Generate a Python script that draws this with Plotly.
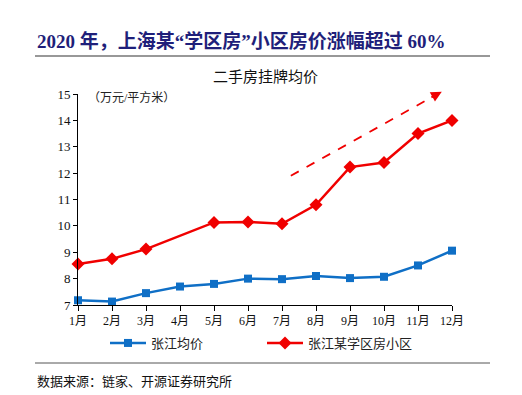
import plotly.graph_objects as go

months = ["1月", "2月", "3月", "4月", "5月", "6月", "7月", "8月", "9月", "10月", "11月", "12月"]
zhangjiang_avg = [7.18, 7.13, 7.45, 7.70, 7.80, 8.00, 7.98, 8.10, 8.02, 8.07, 8.50, 9.06]
school_district = [8.55, 8.75, 9.12, None, 10.13, 10.15, 10.08, 10.80, 12.23, 12.40, 13.50, 14.00]
y_ticks = [7, 8, 9, 10, 11, 12, 13, 14, 15]

SERIF = "Liberation Serif, Noto Sans CJK SC, serif"
xs = list(range(len(months)))

L, R, T, B = 78, 70, 94, 90
W, H = 522, 395
pw, ph = W - L - R, H - T - B


def px(x):
    return (x - L) / pw


def py(y):
    return (H - B - y) / ph


fig = go.Figure()
fig.add_trace(go.Scatter(
    x=xs, y=zhangjiang_avg, name="张江均价", mode="lines+markers",
    line=dict(color="#0F6FC6", width=2.5),
    marker=dict(symbol="square", size=8, color="#0F6FC6"),
    cliponaxis=False,
))
fig.add_trace(go.Scatter(
    x=xs, y=school_district, name="张江某学区房小区", mode="lines+markers",
    connectgaps=True,
    line=dict(color="#F00000", width=2.5),
    marker=dict(symbol="diamond", size=10, color="#F00000"),
    cliponaxis=False,
))

# dashed trend arrow
x0, y0, x1, y1 = 6.26, 11.9, 10.7, 15.09
fig.add_shape(type="line", x0=x0, y0=y0, x1=x1 - 0.08, y1=y1 - 0.06, xref="x", yref="y",
              line=dict(color="#F00000", width=1.8, dash="dash"))
fig.add_annotation(x=x1, y=y1, ax=x1 - 0.35, ay=y1 - 0.25, xref="x", yref="y",
                   axref="x", ayref="y", showarrow=True, arrowhead=2, arrowsize=1.2,
                   arrowwidth=1.8, arrowcolor="#F00000", text="")

fig.update_layout(
    width=W, height=H,
    margin=dict(l=L, r=R, t=T, b=B, autoexpand=False),
    paper_bgcolor="white", plot_bgcolor="white",
    font=dict(family=SERIF, size=12, color="#222222"),
    showlegend=True,
    legend=dict(orientation="h", x=px(105), y=py(328), xanchor="left", yanchor="top",
                entrywidth=106, entrywidthmode="pixels", itemwidth=36,
                bgcolor="rgba(0,0,0,0)",
                font=dict(size=13, family=SERIF)),
    xaxis=dict(range=[0, 11], tickvals=xs, ticktext=months, showgrid=False, zeroline=False,
               showline=True, linecolor="black", linewidth=1, ticks="outside",
               ticklen=5, tickcolor="black", tickfont=dict(size=12, color="#111111")),
    yaxis=dict(range=[7, 15], tickvals=y_ticks, showgrid=False, zeroline=False,
               showline=True, linecolor="black", linewidth=1, ticks="outside",
               ticklen=4, tickcolor="black", tickfont=dict(size=13, color="#111111")),
)

fig.add_annotation(x=px(35), y=py(41), xref="paper", yref="paper",
                   text="<b>2020 年，上海某“学区房”小区房价涨幅超过 60%</b>",
                   showarrow=False, xanchor="left", yanchor="middle",
                   font=dict(size=19, color="#1F1F7A", family=SERIF))
fig.add_annotation(x=px(265), y=py(77), xref="paper", yref="paper", text="二手房挂牌均价",
                   showarrow=False, font=dict(size=15, color="#111111"),
                   xanchor="center", yanchor="middle")
fig.add_annotation(x=px(86), y=py(97), xref="paper", yref="paper", text="（万元/平方米）",
                   showarrow=False, font=dict(size=12, color="#222222"),
                   xanchor="left", yanchor="middle")
fig.add_annotation(x=px(35), y=py(381), xref="paper", yref="paper",
                   text="数据来源：链家、开源证券研究所", showarrow=False,
                   font=dict(size=13, color="#111111"), xanchor="left", yanchor="middle")

fig.add_shape(type="line", xref="paper", yref="paper", x0=px(35), x1=px(490),
              y0=py(56), y1=py(56), line=dict(color="#333333", width=1.2))
fig.add_shape(type="line", xref="paper", yref="paper", x0=px(35), x1=px(490),
              y0=py(363), y1=py(363), line=dict(color="#555555", width=1))

fig.write_html("out.html", config={"displayModeBar": False},
               post_script="document.body.style.margin='0';document.body.style.overflow='hidden';")
